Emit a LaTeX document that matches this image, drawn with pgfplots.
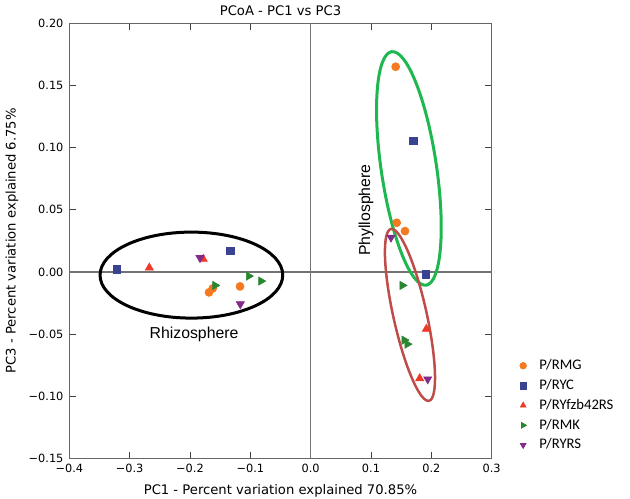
\documentclass[border=0pt]{standalone}
\usepackage{fontspec}
\setmainfont{DejaVu Sans}
\newfontfamily\legfont{Carlito}
\newfontfamily\annfont{Liberation Sans}
\usepackage{pgfplots}
\pgfplotsset{compat=1.18}
\usetikzlibrary{calc}
\definecolor{cOrange}{RGB}{244,121,32}
\definecolor{cBlue}{RGB}{57,67,145}
\definecolor{cRed}{RGB}{237,58,40}
\definecolor{cGreen}{RGB}{42,135,48}
\definecolor{cPurple}{RGB}{128,44,136}
\definecolor{eGreen}{RGB}{30,183,80}
\definecolor{eRed}{RGB}{190,76,72}

\begin{document}
\begin{tikzpicture}
\begin{axis}[
    name=ax,
    scale only axis,
    width=253.4pt, height=261.1pt,
    xmin=-0.4, xmax=0.3, ymin=-0.15, ymax=0.2,
    xtick={-0.4,-0.3,-0.2,-0.1,0,0.1,0.2,0.3},
    xticklabels={−0.4,−0.3,−0.2,−0.1,0.0,0.1,0.2,0.3},
    ytick={-0.15,-0.1,-0.05,0,0.05,0.1,0.15,0.2},
    yticklabels={−0.15,−0.10,−0.05,0.00,0.05,0.10,0.15,0.20},
    tick align=inside, tick pos=both,
    major tick length=4pt,
    tick style={black!75, line width=0.6pt},
    axis line style={black!60, line width=0.7pt},
    ticklabel style={font=\fontsize{6.8}{8}\selectfont},
    title={PCoA - PC1 vs PC3},
    every axis title shift=0pt,
    title style={font=\fontsize{7.9}{9}\selectfont, at={(axis description cs:0.5,1.028)}, anchor=center, yshift=0pt},
    xlabel={PC1 - Percent variation explained 70.85\%},
    ylabel={PC3 - Percent variation explained 6.75\%},
    xlabel style={font=\fontsize{7.9}{9}\selectfont, at={(axis description cs:0.5,-0.074)}, anchor=center},
    ylabel style={font=\fontsize{7.9}{9}\selectfont, at={(axis description cs:-0.136,0.5)}, anchor=center},
    legend style={at={(axis description cs:1.0,0.0)}, xshift=12pt, anchor=south west, draw=none, fill=none,
        font=\legfont\fontsize{8.8}{10}\selectfont, row sep=0.3pt},
    legend cell align=left,
    legend image code/.code={
        \draw[#1, mark size=2pt] plot coordinates {(2.5pt,0pt)};
        \path (-1pt,0pt) (10pt,0pt);
    },
]
% zero lines
\draw[black!55, line width=0.7pt] (axis cs:0,-0.15) -- (axis cs:0,0.2);
\draw[black!55, line width=0.7pt] (axis cs:-0.4,0) -- (axis cs:0.3,0);

% group ellipses
\draw[black, line width=1.8pt] (axis cs:-0.1977,-0.0025) ellipse [x radius=54.8pt, y radius=25.8pt];
\draw[eGreen, line width=1.8pt, rotate around={8.4:(axis cs:0.1628,0.0833)}]
    (axis cs:0.1628,0.0833) ellipse [x radius=16.6pt, y radius=70.8pt];
\draw[eRed, line width=1.5pt, rotate around={12.5:(axis cs:0.1646,-0.0345)}]
    (axis cs:0.1646,-0.0345) ellipse [x radius=10pt, y radius=52.8pt];

% P/RMG
\addplot[only marks, mark=*, mark size=2.4pt, color=cOrange] coordinates {
(-0.1685,-0.0164) (-0.1623,-0.0132) (-0.1171,-0.0116)
(0.1409,0.1651) (0.1426,0.0396) (0.1563,0.0329)};
\addlegendentry{P/RMG}
% P/RYC
\addplot[only marks, mark=square*, mark size=2.3pt, color=cBlue] coordinates {
(-0.3214,0.0023) (-0.1332,0.0170)
(0.1701,0.1056) (0.1911,-0.0017)};
\addlegendentry{P/RYC}
% P/RYfzb42RS
\addplot[only marks, mark=triangle*, mark size=2.8pt, color=cRed] coordinates {
(-0.2674,0.0034) (-0.1780,0.0104)
(0.1917,-0.0459) (0.1807,-0.0856)};
\addlegendentry{P/RYfzb42RS}
% P/RMK
\addplot[only marks, mark=triangle*, mark size=2.8pt, color=cGreen, mark options={rotate=-90}] coordinates {
(-0.1027,-0.0033) (-0.0823,-0.0073) (-0.1585,-0.0108)
(0.1519,-0.0108) (0.1552,-0.0548) (0.1602,-0.0580)};
\addlegendentry{P/RMK}
% P/RYRS
\addplot[only marks, mark=triangle*, mark size=2.8pt, color=cPurple, mark options={rotate=180}] coordinates {
(-0.1834,0.0114) (-0.1166,-0.0258)
(0.1331,0.0278) (0.1940,-0.0862)};
\addlegendentry{P/RYRS}

\node[font=\annfont\fontsize{9.5}{11}\selectfont] at (axis cs:-0.1933,-0.050) {Rhizosphere};
\node[font=\annfont\fontsize{9.5}{11}\selectfont, rotate=90] at (axis cs:0.0917,0.0498) {Phyllosphere};
\end{axis}
\pgfresetboundingbox
\path[use as bounding box] ($(ax.south west)+(-41.6pt,-24.3pt)$) rectangle ($(ax.north east)+(83pt,14pt)$);
\end{tikzpicture}
\end{document}
